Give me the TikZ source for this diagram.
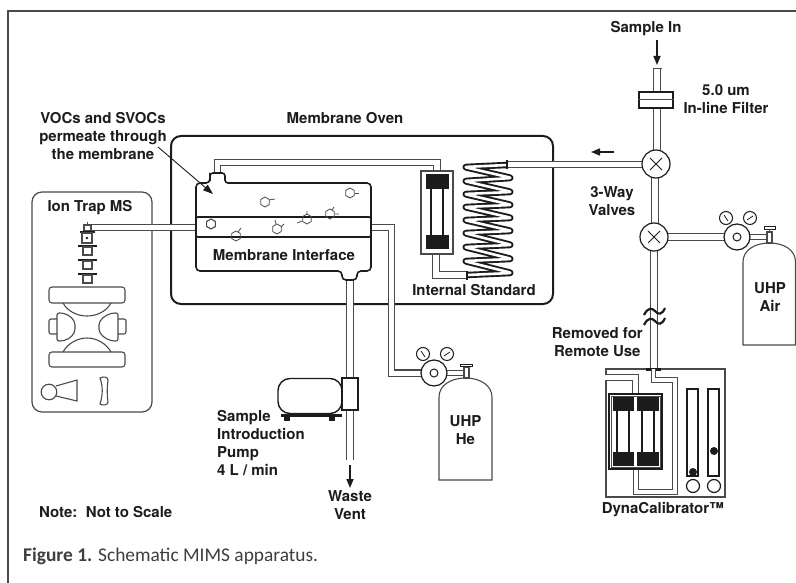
\documentclass[tikz,border=0pt]{standalone}
\usepackage{fontspec}
\setmainfont{TeX Gyre Heros}
\newfontfamily\capfont{Carlito}
\usetikzlibrary{arrows.meta,calc}
\definecolor{ink}{HTML}{1C1C1C}
\definecolor{soft}{HTML}{4A4A4A}
\tikzset{
  x=1pt,y=-1pt,
  lbl/.style={font=\bfseries\fontsize{15}{18}\selectfont,text=ink,align=center,inner sep=0pt},
  pipe/.style={draw=soft,line width=1.1pt,double=white,double distance=5.6pt},
  widepipe/.style={draw=soft,line width=1.1pt,double=white,double distance=6.6pt},
  thinpipe/.style={draw=soft,line width=1.1pt,double=white,double distance=3.6pt},
  part/.style={draw=ink,line width=1.2pt,fill=white},
  softpart/.style={draw=soft,line width=1.1pt,fill=white},
  box/.style={rectangle,draw=ink,line width=2pt,rounded corners=10pt,inner sep=0pt},
  softbox/.style={rectangle,draw=soft,line width=1.1pt,inner sep=0pt},
  block/.style={fill=ink,draw=none},
  tube/.style={draw=ink,line width=1.6pt},
  arrowline/.style={draw=ink,line width=1.5pt,-{Triangle[length=9pt,width=7pt]}},
  ring/.style={circle,draw=ink,line width=1.2pt,fill=white,inner sep=0pt},
  mol/.style={draw=soft,line width=.8pt},
}
\newcommand{\hexa}[3][.8pt]{\draw[mol,line width=#1] ($(#2,#3)+(30:5)$)--($(#2,#3)+(90:5)$)--($(#2,#3)+(150:5)$)--($(#2,#3)+(210:5)$)--($(#2,#3)+(270:5)$)--($(#2,#3)+(330:5)$)--cycle;}
\newcommand{\regul}[3]{%
  \node[ring,minimum size=26pt] (#1) at (#2,#3) {};
  \node[ring,minimum size=8pt,line width=1pt] at (#2,#3) {};
  \node[ring,minimum size=13pt,line width=1pt] (#1a) at ($(#2,#3)+(-11,-19)$) {};
  \node[ring,minimum size=13pt,line width=1pt] (#1b) at ($(#2,#3)+(13,-19)$) {};
  \draw[ink,line width=.8pt] ($(#1a)+(-2,-3)$)--($(#1a)+(2,3)$);
  \draw[ink,line width=.8pt] ($(#1b)+(-3,2)$)--($(#1b)+(3,-2)$);
}
\begin{document}
\begin{tikzpicture}
\useasboundingbox (0,0) rectangle (796,583);
\fill[white] (0,0) rectangle (796,583);
\draw[soft,line width=1.6pt] (8,583)--(8,11)--(796,11);

% ---------- tanks ----------
\draw[softpart] (743,345)--(743,262) .. controls (743,250) and (755,243) .. (769.5,243) .. controls (784,243) and (795.5,250) .. (795.5,262)--(795.5,345)--cycle;
\draw[softpart] (439,480)--(439,397) .. controls (439,386) and (450,378) .. (465.5,378) .. controls (481,378) and (492,386) .. (492,397)--(492,480)--cycle;

% ---------- main boxes ----------
\node[box,minimum width=382pt,minimum height=168pt] (oven) at (362,220) {};
\node[box,draw=soft,line width=1.2pt,minimum width=120pt,minimum height=220pt] (ms) at (92,302) {};

\coordinate (topA) at (217.5,173);
\coordinate (topB) at (437,171);
\coordinate (stdB) at (436,254);
\coordinate (coilT) at (507,164.5);
\coordinate (coilB) at (467,275);
\coordinate (inL) at (196,227.5);
\coordinate (inR) at (371,227.5);
\coordinate (out) at (350,280);
\coordinate (ventEnd) at (350,460);
\coordinate (msIn) at (90,227.5);

% ---------- pipes ----------
\draw[pipe,double distance=4.2pt] (msIn)--(inL);
\draw[pipe] (topA)--(217.5,162.5)--(437,162.5)--(topB);
\draw[pipe] (stdB)--(436,275)--(coilB);
\draw[pipe,double distance=5pt] (inR)--(391.5,227.5)--(391.5,373)--(434,373);
\draw[widepipe] (out)--(ventEnd);
\draw[pipe] (coilT)--(656,164.5);
\draw[widepipe] (657,68)--(657,150);
\draw[draw=soft,line width=1.1pt] (652.5,68.5)--(661.5,68.5);
\draw[widepipe] (655,164)--(655,237);
\draw[widepipe] (654,237)--(654,369);
\draw[pipe] (654,237)--(737,237);
\draw[pipe,double distance=4pt] (737,237)--(769,237);
\draw[pipe,double distance=4pt] (434,373)--(466,373);

% ---------- coil ----------
\draw[draw=ink,line width=1.9pt,double=white,double distance=2.6pt,rounded corners=3pt,line join=round]
  (507,165)--(464,167)--(512,178)--(464,181)--(512,192)--(464,194)--(512,205)--(464,207)--(512,218)--(464,220)--(512,231)--(464,233)--(512,245)--(464,247)--(512,259)--(464,261)--(512,273)--(467,275);
\draw[ink,line width=1.8pt] (507,160.5)--(507,169.5);
\draw[ink,line width=1.8pt] (467,270.5)--(467,279.5);

% ---------- internal standard ----------
\node[softbox,minimum width=32pt,minimum height=83pt,fill=white] (std) at (437,212.5) {};
\fill[block] (426,174) rectangle (449,189);
\fill[block] (426,235) rectangle (449,249);
\draw[tube] (431,189)--(431,235) (443,189)--(443,235);

% ---------- membrane interface ----------
\draw[part,line width=1.6pt,rounded corners=4pt] (196,183)--(210,183)--(210,177)[rounded corners=3pt]--(210,173)--(225,173)--(225,183)[rounded corners=4pt]--(371,183)--(371,271)--(357,271)--(357,280)--(342,280)--(342,271)--(196,271)--cycle;
\draw[draw=ink,line width=1.6pt,rounded corners=2pt] (196,217) rectangle (371,237);
\hexa{265}{202}\draw[mol] (269,200)--(275,199);
\hexa{350}{193}\draw[mol] (355,193)--(359,193);
\hexa[1.1pt]{211}{224}
\hexa{236}{236}\draw[mol] (238,232)--(241,228);
\hexa{277}{229}\draw[mol] (276,224)--(275,220) (281,227)--(284,224);
\hexa{307}{219}\draw[mol] (302,221)--(297,223) (307,214)--(307,211);
\hexa{330}{214}\draw[mol] (332,210)--(334,207) (335,214)--(339,214);

% ---------- leader ----------
\coordinate (voc) at (158,147);
\coordinate (vocEnd) at (213,194);
\draw[draw=ink,line width=.9pt,-{Triangle[length=10pt,width=7pt]}] (voc)--(vocEnd);

% ---------- ion trap MS ----------
\begin{scope}[draw=soft,line width=1.1pt]
\draw[fill=white] (84,225)rectangle(91,231);
\draw (87.5,222)--(87.5,225);
\draw[line width=2pt,ink] (80,232.5)--(95,232.5);
\draw[fill=white] (82,233)rectangle(92,243);
\fill[ink] (87,238) circle (1.3);
\foreach \y in {246,260,274}{
  \draw[line width=2pt,ink] (78,\y)--(97,\y);
  \draw[fill=white] (83,\y+1)rectangle(92,\y+9);
}
\draw[rounded corners=3pt] (49,287) rectangle (125,303);
\draw[rounded corners=3pt] (49,352) rectangle (125,367);
\draw (63,303) .. controls (68,312) and (78,316) .. (87,316) .. controls (96,316) and (106,312) .. (111,303);
\draw (63,352) .. controls (68,343) and (78,338) .. (87,338) .. controls (96,338) and (106,343) .. (111,352);
\draw[rounded corners=2pt] (57,313) -- (57,341) -- (62,341) .. controls (70,339) and (75,334) .. (75,327) .. controls (75,320) and (70,315) .. (62,313) -- cycle;
\draw[rounded corners=2pt] (118,313) -- (118,341) -- (113,341) .. controls (105,339) and (99,334) .. (99,327) .. controls (99,320) and (105,315) .. (113,313) -- cycle;
\draw[rounded corners=2pt] (57,319) -- (49,319) -- (49,334) -- (57,334);
\draw[rounded corners=2pt] (118,319) -- (126,319) -- (126,334) -- (118,334);
\draw (56,386)--(77,380)--(77,401)--(56,396);
\draw[fill=white] (49,392) circle (7.8);
\draw (100,378) .. controls (104,376) and (108,377) .. (108,380) .. controls (107,388) and (107,396) .. (108,402) .. controls (108,405) and (103,406) .. (100,404) .. controls (103,395) and (103,386) .. (100,378) -- cycle;
\end{scope}

% ---------- sample line ----------
\coordinate (sampTop) at (657,40);
\coordinate (sampEnd) at (657,65);
\draw[arrowline] (sampTop)--(sampEnd);
\node[draw=ink,line width=1.6pt,fill=white,minimum width=34pt,minimum height=16pt,inner sep=0pt] (filter) at (656,100) {};
\draw[soft,line width=1pt] (filter.west)--(filter.east);
\node[ring,minimum size=28pt] (v1) at (656,164) {};
\node[ring,minimum size=28pt] (v2) at (654,237) {};
\draw[ink,line width=1pt] (650,158)--(662,170) (650,170)--(662,158);
\draw[ink,line width=1pt] (648,231)--(660,243) (648,243)--(660,231);
\coordinate (flowA) at (614,152);
\coordinate (flowB) at (591,152);
\draw[arrowline] (flowA)--(flowB);
\draw[ink,line width=2.2pt] (644,315) .. controls (648,307) and (652,308) .. (655,311) .. controls (658,315) and (662,315) .. (665,308);
\draw[ink,line width=2.2pt] (644,325) .. controls (648,317) and (652,318) .. (655,321) .. controls (658,325) and (662,325) .. (665,318);

% ---------- regulators ----------
\draw[softpart] (767,232)rectangle(772,243);
\draw[ink,line width=1pt,fill=white] (764,227)rectangle(775,229.5);
\draw[soft,line width=1pt] (769.5,229.5)--(769.5,232);
\draw[softpart] (464,367)rectangle(469,378);
\draw[ink,line width=1pt,fill=white] (460,364)rectangle(472,366.5);
\regul{ra}{737}{237}
\regul{rb}{434}{373}

% ---------- pump ----------
\node[part,line width=1.4pt,rectangle,rounded corners=12pt,minimum width=64pt,minimum height=35pt,inner sep=0pt] (pump) at (310,396) {};
\fill[ink] (281,414) rectangle (342,417);
\fill[ink] (284,417) rectangle (290,421);
\fill[ink] (329,417) rectangle (335,421);
\node[part,rectangle,minimum width=16pt,minimum height=32pt,inner sep=0pt] (pumpbox) at (350,394) {};
\coordinate (ventA) at (350,465);
\coordinate (ventB) at (350,488);
\draw[arrowline] (ventA)--(ventB);

% ---------- dynacalibrator ----------
\node[softbox,minimum width=119pt,minimum height=128pt,line width=1.2pt] (dyna) at (665.5,433) {};
\draw[ink,line width=3pt] (646,369)--(661,369);
\draw[thinpipe] (653.5,369)--(653.5,380)--(675,380)--(675,492)--(636,492)--(636,469);
\draw[pipe] (dyna.west |- 0,377.5)--(635.5,377.5)--(635.5,394);
\node[draw=ink,line width=1.6pt,fill=white,minimum width=53pt,minimum height=75pt,inner sep=0pt] (ds) at (635.5,431.5) {};
\draw[soft,line width=.8pt] (611,396) rectangle (660,467);
\fill[block] (613,397) rectangle (634,411);
\fill[block] (637,397) rectangle (659,411);
\fill[block] (613,452) rectangle (634,466);
\fill[block] (637,452) rectangle (659,466);
\draw[tube] (617,411)--(617,452) (629,411)--(629,452) (642,411)--(642,452) (654,411)--(654,452);
\node[part,line width=1.5pt,minimum width=11pt,minimum height=87pt,inner sep=0pt] (rot1) at (692.5,432.5) {};
\node[part,line width=1.5pt,minimum width=11pt,minimum height=87pt,inner sep=0pt] (rot2) at (713.5,432.5) {};
\fill[ink] (693,472) circle (4);
\fill[ink] (714,451) circle (4);
\node[ring,minimum size=13pt] (k1) at (693,486) {};
\node[ring,minimum size=13pt] (k2) at (714,486) {};

% ---------- labels ----------
\node[lbl] (t1) at (646,29) {Sample In};
\node[lbl] (t2) at (726,99) {5.0 um\\In-line Filter};
\node[lbl] (t3) at (345,118) {Membrane Oven};
\node[lbl] (t4) at (103,136.5) {VOCs and SVOCs\\permeate through\\the membrane};
\node[lbl] (t5) at (90,208) {Ion Trap MS};
\node[lbl] (t6) at (284,255) {Membrane Interface};
\node[lbl] (t7) at (474,290) {Internal Standard};
\node[lbl] (t8) at (612,201) {3-Way\\Valves};
\node[lbl,align=center,anchor=east] (t9) at (643,342) {Removed for\\Remote Use};
\node[lbl] (t10) at (770,297) {UHP\\Air};
\node[lbl] (t11) at (465.5,430) {UHP\\He};
\node[lbl,align=left,anchor=west] (t12) at (217,443) {Sample\\Introduction\\Pump\\4 L / min};
\node[lbl] (t13) at (350,505) {Waste\\Vent};
\node[lbl,anchor=west] (t14) at (39,512) {Note:\ \ Not to Scale};
\node[lbl] (t15) at (663,510) {DynaCalibrator™};
\node[anchor=west,inner sep=0pt,font=\capfont\fontsize{19.4}{22}\selectfont,text=ink!85] (cap) at (23,556) {\textbf{Figure 1.} Schematic MIMS apparatus.};
\end{tikzpicture}
\end{document}
